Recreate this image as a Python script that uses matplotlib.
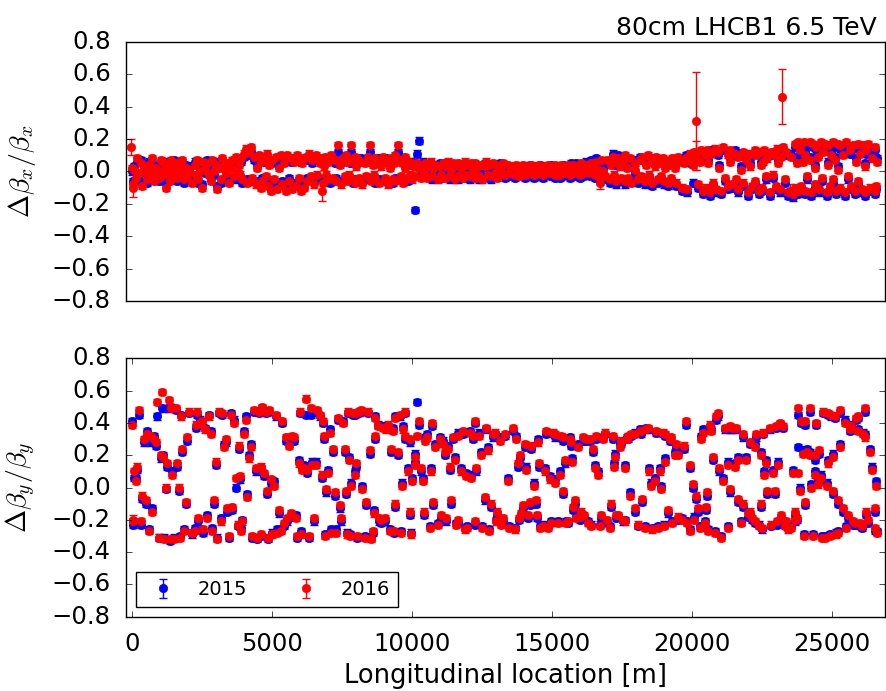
### Beta-beating along the ring, 2015 vs 2016 measurements
import numpy as np
import matplotlib
matplotlib.use('Agg')
import matplotlib.pyplot as plt

# BPM longitudinal positions [m]
s = [
    20, 45, 84, 150, 202, 262, 322, 381, 440, 500,
    560, 619, 679, 738, 800, 857, 917, 976, 1035, 1095,
    1120, 1160, 1214, 1273, 1333, 1360, 1400, 1452, 1520, 1580,
    1631, 1690, 1710, 1750, 1809, 1869, 1928, 1988, 2047, 2150,
    2260, 2285, 2345, 2370, 2450, 2523, 2550, 2620, 2702, 2760,
    2821, 2880, 2940, 3000, 3060, 3119, 3178, 3240, 3297, 3357,
    3416, 3476, 3540, 3595, 3654, 3720, 3780, 3833, 3860, 3893,
    3952, 4012, 4080, 4130, 4190, 4250, 4309, 4369, 4430, 4490,
    4550, 4607, 4630, 4667, 4726, 4790, 4845, 4870, 4905, 4960,
    5024, 5083, 5140, 5200, 5262, 5321, 5380, 5440, 5500, 5559,
    5620, 5680, 5738, 5800, 5857, 5920, 5976, 6000, 6036, 6100,
    6160, 6214, 6274, 6333, 6393, 6452, 6510, 6571, 6631, 6714,
    6780, 6833, 6860, 6900, 6952, 7011, 7070, 7130, 7190, 7249,
    7310, 7368, 7428, 7487, 7547, 7610, 7666, 7700, 7726, 7750,
    7800, 7845, 7900, 7964, 7990, 8023, 8050, 8120, 8202, 8230,
    8321, 8380, 8440, 8500, 8560, 8618, 8640, 8678, 8700, 8797,
    8820, 8900, 8975, 9035, 9100, 9154, 9213, 9273, 9330, 9370,
    9392, 9410, 9511, 9570, 9630, 9650, 9700, 9749, 9770, 9868,
    9927, 9950, 9987, 10010, 10106, 10130, 10200, 10250, 10344, 10403,
    10430, 10460, 10550, 10641, 10701, 10720, 10760, 10850, 10939, 11000,
    11058, 11117, 11180, 11236, 11296, 11360, 11415, 11475, 11534, 11600,
    11653, 11670, 11772, 11832, 11900, 11951, 11970, 12070, 12130, 12189,
    12249, 12270, 12308, 12400, 12487, 12510, 12606, 12665, 12725, 12750,
    12830, 12903, 12960, 13022, 13040, 13141, 13200, 13260, 13350, 13439,
    13460, 13618, 13680, 13737, 13797, 13820, 13856, 13920, 13975, 14034,
    14094, 14153, 14213, 14272, 14360, 14451, 14490, 14510, 14530, 14600,
    14689, 14748, 14808, 14870, 14927, 14986, 15050, 15105, 15130, 15224,
    15284, 15340, 15403, 15420, 15462, 15520, 15581, 15640, 15700, 15720,
    15760, 15820, 15879, 15938, 16000, 16058, 16117, 16140, 16230, 16300,
    16355, 16414, 16480, 16533, 16593, 16650, 16712, 16771, 16830, 16890,
    16960, 17069, 17130, 17188, 17210, 17247, 17300, 17366, 17426, 17485,
    17550, 17604, 17620, 17680, 17723, 17800, 17850, 17961, 17980, 18080,
    18150, 18199, 18220, 18318, 18380, 18437, 18460, 18556, 18580, 18675,
    18735, 18794, 18854, 18913, 18970, 19010, 19032, 19050, 19151, 19210,
    19270, 19290, 19389, 19449, 19508, 19530, 19650, 19720, 19806, 19830,
    19925, 19950, 20044, 20100, 20165, 20224, 20284, 20340, 20403, 20470,
    20522, 20545, 20600, 20641, 20700, 20760, 20819, 20880, 20938, 20960,
    21057, 21117, 21200, 21295, 21310, 21355, 21375, 21450, 21533, 21593,
    21652, 21670, 21771, 21831, 21850, 21930, 22009, 22069, 22090, 22160,
    22247, 22270, 22307, 22400, 22460, 22485, 22500, 22545, 22600, 22663,
    22680, 22783, 22850, 22901, 22961, 23020, 23040, 23080, 23140, 23199,
    23258, 23318, 23377, 23450, 23556, 23620, 23675, 23690, 23780, 23794,
    23810, 23854, 23920, 23973, 24015, 24032, 24050, 24120, 24210, 24230,
    24270, 24329, 24389, 24405, 24449, 24508, 24560, 24627, 24645, 24687,
    24760, 24840, 24865, 24880, 24924, 24990, 25044, 25060, 25103, 25160,
    25222, 25240, 25282, 25300, 25401, 25460, 25520, 25580, 25640, 25699,
    25758, 25818, 25880, 25937, 25955, 25996, 26080, 26130, 26175, 26195,
    26234, 26300, 26352, 26440, 26531, 26550, 26590, 26620,
]

# horizontal beta-beating, 2015
bbx_2015 = [
    .00, -.06, .03, -.06, .06, -.02, .07, -.07, .01, .03,
    -.07, .06, -.02, .06, -.04, .00, .03, -.06, .05, -.04,
    .04, -.01, -.08, .06, .01, -.04, .05, -.02, .07, .00,
    -.06, .04, -.02, .05, .05, -.07, .04, -.02, .03, -.05,
    .06, -.04, .05, -.07, .02, -.08, .04, -.01, .07, .00,
    -.04, .05, -.02, .06, -.09, .04, -.07, .06, .02, -.03,
    .03, -.05, .04, .05, -.05, .07, -.01, .06, -.04, .06,
    -.07, .09, .11, -.05, .10, .12, -.06, .07, -.06, .04,
    .08, -.08, .08, -.04, .06, -.05, .09, -.07, .06, -.10,
    .05, -.07, .07, -.09, .04, .08, -.06, .07, -.10, .08,
    -.04, .06, -.09, .08, -.07, .08, -.06, .06, -.10, .07,
    -.08, .07, -.04, .09, -.05, .05, -.06, .08, -.04, .07,
    .06, -.05, .05, .07, -.04, .08, -.07, .08, -.06, .05,
    -.04, .12, .06, -.06, .06, -.05, .08, -.04, .08, -.04,
    .05, .12, -.07, .07, -.05, .05, .06, -.06, .08, -.06,
    .07, -.05, .07, .12, -.04, .06, -.04, .06, -.07, .08,
    -.05, .05, .07, -.06, .08, -.06, .04, .06, -.07, .07,
    .08, -.04, .12, .09, -.05, .07, -.05, .07, .04, -.06,
    .04, -.04, .06, -.03, .05, -.24, .11, .19, -.02, .06,
    -.03, .03, -.02, .05, .04, -.05, .04, .02, -.03, .05,
    -.04, .03, -.02, .05, .04, -.05, .03, .03, -.03, .02,
    -.05, .03, .04, -.02, .04, -.04, .02, -.05, .03, .03,
    -.02, .03, .04, -.05, .02, -.03, .05, .04, -.04, .02,
    -.05, .03, .01, .02, -.02, .05, -.02, .03, -.04, .02,
    -.03, .01, -.04, .02, .03, -.01, .01, .02, .02, -.04,
    .01, -.03, .04, .02, -.04, .01, .03, -.03, .02, .04,
    -.04, .01, .02, .02, -.03, .04, .01, -.04, .02, .03,
    -.04, .02, .04, -.03, .01, .02, .02, -.04, .05, -.01,
    .02, -.03, .05, .00, -.04, .03, .03, -.03, .06, .00,
    -.03, .07, .00, -.04, .08, .03, -.06, .05, .02, -.05,
    .05, -.07, .06, .11, -.04, .04, -.08, .10, .05, -.06,
    .08, -.08, .08, .04, -.06, .06, -.05, .07, -.01, -.07,
    .09, -.05, .07, -.08, .06, .08, -.04, .08, -.09, .05,
    .07, -.07, .07, -.05, .06, -.08, .04, .05, -.09, .06,
    -.06, .06, .04, -.09, .08, .07, -.12, .07, .10, -.13,
    .05, .09, -.07, .10, .07, -.10, .08, .11, -.14, .12,
    -.12, .11, .07, -.15, .13, -.09, .12, -.13, .10, .04,
    -.14, .13, -.06, .12, -.11, .11, .08, -.10, .13, -.07,
    .11, -.13, .03, .10, -.09, .09, -.15, .05, .09, -.11,
    .11, -.08, .12, -.14, .06, .10, -.12, .08, .11, -.05,
    .10, -.15, .10, -.04, .12, -.11, .12, .07, -.13, .11,
    .13, -.07, .10, -.15, .11, -.16, .15, -.12, .07, -.14,
    .16, .11, -.11, .08, .16, -.14, .12, -.05, .16, .09,
    -.15, .15, .04, -.10, .13, .11, -.13, .16, -.06, .14,
    .15, -.15, .06, .14, -.11, .12, .16, -.07, .09, -.14,
    .15, .03, -.12, .14, .12, -.15, .16, -.05, .11, -.11,
    .14, -.14, .08, .15, -.08, .13, -.13, .14, .05, -.15,
    .11, .15, -.12, .10, -.14, .13, -.11, .08,
]

# horizontal beta-beating, 2016
bbx_2016 = [
    .02, -.08, .01, -.04, .08, -.01, .05, -.09, .03, .00,
    -.05, .04, -.01, .08, -.06, .02, .00, -.04, .07, -.02,
    .06, .01, -.10, .04, -.02, -.06, .07, .00, .05, .02,
    -.04, .06, -.01, .03, .07, -.05, .02, -.03, .01, -.07,
    .04, -.02, .07, -.05, .00, -.10, .06, .01, .05, -.02,
    -.06, .07, .00, .04, -.11, .02, -.05, .08, .03, -.01,
    .05, -.07, .02, .07, -.03, .09, -.01, .04, -.02, .08,
    -.05, .11, .14, -.07, .12, .15, -.04, .09, -.08, .02,
    .10, -.10, .06, -.06, .08, -.03, .11, -.09, .04, -.12,
    .07, -.05, .09, -.11, .02, .10, -.08, .05, -.12, .10,
    -.06, .08, -.11, .06, -.09, .10, -.04, .08, -.12, .05,
    -.10, .09, -.06, .11, -.03, .07, -.08, .10, -.02, .05,
    .08, -.07, .03, .09, -.02, .06, -.05, .10, -.04, .07,
    -.06, .16, .04, -.08, .08, -.03, .10, -.06, .06, -.02,
    .07, .16, -.05, .09, -.07, .03, .08, -.04, .06, -.08,
    .05, -.03, .09, .16, -.06, .04, -.02, .08, -.05, .06,
    -.07, .03, .09, -.04, .06, -.08, .02, .08, -.05, .05,
    .10, -.06, .16, .07, -.03, .05, -.07, .09, .02, -.04,
    .06, -.02, .04, -.05, .03, -.03, .05, .02, -.04, .04,
    -.01, .05, -.04, .03, .06, -.03, .02, .04, -.05, .03,
    -.02, .05, -.04, .03, .06, -.03, .01, .05, -.05, .04,
    -.03, .05, .02, -.04, .06, -.02, .04, -.03, .05, .01,
    -.04, .05, .02, -.03, .04, -.05, .03, .06, -.02, .04,
    -.03, .05, -.01, .04, -.04, .03, .00, .05, -.02, .04,
    -.01, .03, -.02, .04, .01, -.03, .03, .00, .04, -.02,
    .03, -.01, .02, .04, -.02, .03, .01, -.01, .04, .02,
    -.02, .03, .00, .04, -.01, .02, .03, -.02, .04, .01,
    -.02, .04, .02, -.01, .03, .00, .04, -.02, .03, .01,
    .04, -.01, .03, .02, -.02, .05, .01, -.01, .04, .02,
    -.01, .05, .02, -.02, .06, .01, -.04, .07, .00, -.03,
    .07, -.05, .04, .09, -.02, .06, -.06, .08, .03, -.04,
    .06, -.06, .10, .02, -.04, .08, -.07, .05, .01, -.05,
    .07, -.03, .09, -.06, .04, .10, -.02, .06, -.07, .03,
    .09, -.05, .05, -.03, .08, -.06, .02, .07, -.07, .04,
    -.04, .08, .02, -.07, .06, .09, -.10, .05, .08, -.11,
    .07, .11, .04, .12, .09, -.08, .06, .13, -.12, .10,
    -.10, .13, .05, -.13, .11, -.07, .14, -.11, .12, .02,
    -.12, .15, -.04, .10, -.09, .13, .06, -.08, .11, -.05,
    .09, -.11, .01, .12, -.07, .07, -.13, .03, .11, -.09,
    .13, -.06, .10, -.12, .04, .12, -.10, .06, .13, -.03,
    .08, -.13, .12, -.02, .10, -.09, .14, .05, -.11, .09,
    .15, -.05, .12, -.13, .09, -.14, .17, -.10, .05, -.12,
    .18, .13, -.09, .06, .18, -.12, .10, -.03, .18, .07,
    -.13, .17, .02, -.08, .15, .09, -.11, .18, -.04, .12,
    .17, -.13, .04, .16, -.09, .10, .18, -.05, .07, -.12,
    .17, .01, -.10, .16, .10, -.13, .18, -.03, .13, -.09,
    .16, -.12, .06, .17, -.06, .11, -.11, .16, .03, -.13,
    .13, .17, -.10, .08, -.12, .15, -.09, .06,
]

# vertical beta-beating, 2015
bby_2015 = [
    .41, -.23, .06, .06, .11, .45, -.23, -.07, .28, -.10,
    .35, -.26, .28, -.13, .32, .26, .44, -.31, .18, .49,
    .20, -.31, -.01, .13, .49, -.33, .50, .10, -.31, .48,
    .13, -.02, -.30, .45, .22, -.26, -.10, .29, .46, -.29,
    -.25, .37, .45, -.21, .42, .39, -.28, .37, -.17, .45,
    .35, -.25, -.10, .14, -.31, .46, -.19, .45, .27, .28,
    -.15, -.31, .46, -.14, .42, .00, -.24, .24, .05, -.25,
    -.20, .35, .44, -.04, .20, .27, -.31, .47, .10, -.32,
    .46, .12, -.30, .49, .07, .46, -.04, -.32, .47, .03,
    -.28, .04, .44, -.26, -.16, -.26, .40, -.24, .29, -.21,
    .28, -.18, .30, .29, -.17, -.31, .17, .46, -.27, .13,
    .14, .45, .09, -.31, .45, .16, -.21, .16, .47, .44,
    .06, .40, .30, -.29, -.03, .11, .36, -.26, .22, -.05,
    -.26, .42, -.13, -.21, .41, .22, -.04, -.28, .46, .19,
    -.29, .03, .45, .45, .10, .13, -.31, .46, .47, .01,
    -.30, -.11, .46, .21, -.31, -.28, -.14, .44, .30, .39,
    -.21, -.22, .38, -.21, .38, .38, -.26, .22, .37, -.28,
    .44, -.12, .20, .44, -.27, .03, .38, .46, .30, .12,
    .28, -.17, -.28, .06, .16, .21, .53, .39, .10, .06,
    -.17, .31, .33, -.24, .12, .38, -.11, .27, -.22, .31,
    -.19, .29, .20, -.21, .26, .11, -.10, .30, .19, -.22,
    .34, -.22, .12, .33, -.25, .09, -.24, .35, .08, .30,
    -.23, .40, .10, .34, .22, -.24, -.08, .36, .25, -.26,
    -.12, .31, .33, -.20, -.17, .31, -.22, -.21, .32, .06,
    -.24, .35, -.25, .32, .13, -.20, .18, -.18, -.13, .25,
    .13, -.19, -.11, .24, .03, -.10, -.19, .30, .13, -.24,
    -.23, .12, .33, -.24, .07, -.21, .33, .31, .05, -.21,
    .10, .31, .29, -.04, .15, -.21, -.22, .31, .26, .18,
    -.14, -.10, -.18, .27, -.20, -.17, .29, -.19, .29, -.21,
    .29, -.23, .22, .14, .30, .10, -.23, -.19, .31, .33,
    -.22, -.24, -.12, .30, .15, .21, -.19, -.18, .27, .27,
    -.21, .14, -.20, .31, .30, -.03, .32, .34, -.15, -.24,
    .36, .33, -.09, -.24, .37, .36, .12, .03, -.25, .06,
    .34, -.24, .12, .01, .33, -.23, .32, .18, -.16, .29,
    .29, -.21, .22, .25, .22, -.20, -.19, .24, .39, -.21,
    .12, -.26, .00, -.18, -.07, -.15, -.24, .32, .36, -.21,
    -.14, -.05, -.26, .37, .36, .17, -.27, .42, .44, .10,
    -.30, .06, .36, .16, -.24, .36, -.03, .36, .15, .36,
    .19, -.09, -.21, .31, -.12, .19, -.18, .27, -.17, -.20,
    .27, -.22, .31, -.23, -.12, .22, -.26, .33, .10, .17,
    -.04, .36, -.24, .11, -.04, .37, -.23, .16, .39, -.19,
    .37, -.23, -.22, -.25, -.24, .11, -.17, -.21, -.20, .45,
    .25, .00, .40, .23, -.29, .39, -.11, .24, .47, .22,
    .02, -.29, .10, .17, .39, .04, .21, .08, -.30, .46,
    -.30, .03, .45, .17, -.29, .44, .21, -.04, .43, -.28,
    -.10, -.27, .46, .27, -.15, .42, -.24, -.19, .35, .39,
    -.23, -.23, .42, .36, .43, -.24, -.25, .34, .33, .47,
    -.17, -.22, .24, .13, -.15, -.27, .04, -.27,
]

# vertical beta-beating, 2016
bby_2016 = [
    .39, -.21, .10, .04, .13, .48, -.21, -.05, .30, -.08,
    .33, -.27, .32, -.15, .30, .28, .53, -.31, .20, .59,
    .19, -.32, .00, .15, .54, -.32, .49, .08, -.32, .49,
    .15, .00, -.31, .44, .24, -.27, -.09, .31, .47, -.28,
    -.27, .39, .47, -.19, .40, .41, -.26, .36, -.19, .44,
    .33, -.27, -.08, .16, -.32, .47, -.21, .46, .25, .30,
    -.13, -.30, .45, -.12, .40, .06, -.23, .26, .07, -.27,
    -.21, .33, .42, -.06, .18, .25, -.30, .48, .12, -.31,
    .47, .13, -.29, .50, .09, .47, -.02, -.31, .48, .05,
    -.29, .01, .45, -.28, -.14, -.27, .41, -.22, .31, -.19,
    .26, -.16, .32, .31, -.19, -.30, .15, .47, -.29, .11,
    .12, .55, .11, -.30, .49, .14, -.19, .14, .48, .45,
    .08, .41, .32, -.30, -.01, .09, .34, -.28, .24, -.03,
    -.28, .43, -.11, -.19, .40, .24, -.02, -.29, .47, .17,
    -.30, .01, .46, .46, .08, .15, -.30, .47, .48, -.01,
    -.31, -.09, .47, .23, -.32, -.27, -.16, .43, .32, .38,
    -.19, -.20, .37, -.19, .36, .39, -.27, .24, .35, -.27,
    .43, -.10, .22, .45, -.28, .01, .36, .47, .32, .10,
    .30, -.15, -.29, .04, .14, .19, .32, .41, .12, .04,
    -.15, .29, .31, -.25, .10, .40, -.09, .25, -.23, .30,
    -.17, .27, .22, -.19, .24, .13, -.08, .31, .17, -.23,
    .32, -.20, .10, .35, -.26, .07, -.25, .34, .06, .32,
    -.21, .41, .12, .32, .20, -.25, -.06, .37, .23, -.27,
    -.10, .33, .34, -.21, -.15, .29, -.23, -.19, .33, .04,
    -.25, .37, -.26, .30, .15, -.19, .20, -.16, -.11, .27,
    .11, -.17, -.09, .26, .01, -.08, -.17, .28, .15, -.25,
    -.24, .10, .35, -.25, .05, -.22, .34, .33, .03, -.22,
    .08, .32, .31, -.02, .17, -.22, -.21, .30, .28, .16,
    -.12, -.08, -.19, .25, -.18, -.15, .31, -.17, .30, -.22,
    .30, -.24, .24, .12, .32, .08, -.24, -.17, .30, .34,
    -.20, -.25, -.10, .32, .13, .19, -.17, -.17, .25, .29,
    -.20, .12, -.21, .30, .32, -.05, .33, .33, -.13, -.23,
    .35, .35, -.07, -.25, .36, .37, .10, .01, -.26, .04,
    .35, -.25, .10, -.01, .34, -.24, .33, .16, -.14, .30,
    .31, -.22, .20, .27, .20, -.18, -.20, .26, .41, -.22,
    .14, -.27, .02, -.20, -.05, -.13, -.25, .30, .34, -.22,
    -.12, -.03, -.27, .39, .35, .19, -.28, .44, .46, .12,
    -.31, .04, .37, .14, -.25, .38, -.01, .37, .13, .37,
    .17, -.07, -.22, .33, -.10, .17, -.16, .28, -.15, -.19,
    .25, -.21, .33, -.24, -.10, .20, -.25, .34, .08, .15,
    -.02, .37, -.23, .09, -.02, .38, -.21, .14, .40, -.17,
    .38, -.24, -.21, -.26, -.25, .09, -.15, -.20, -.19, .49,
    .09, -.02, .41, .21, -.30, .41, -.09, .22, .49, .20,
    .00, -.30, .08, .20, .40, .02, .23, .06, -.31, .47,
    -.31, .01, .46, .15, -.30, .45, .19, -.02, .44, -.29,
    -.08, -.28, .48, .25, -.13, .40, -.25, -.17, .36, .38,
    -.21, -.22, .43, .35, .44, -.22, -.24, .33, .31, .49,
    -.15, -.20, .22, .11, -.13, -.25, .01, -.28,
]

# typical measurement error
bb_err = 0.02

# points with large error bars (2016)
out_x_s = [-30, 60, 6790, 16710, 20140, 20140, 23240, 23500]
out_x_bb = [0.15, -0.10, -0.12, -0.07, 0.31, 0.10, 0.46, -0.12]
out_x_err = [0.05, 0.06, 0.06, 0.04, 0.30, 0.09, 0.17, 0.04]
out_y_s = [30]
out_y_bb = [-0.20]
out_y_err = [0.03]

plt.style.use('classic')
plt.rcParams['savefig.facecolor'] = 'white'

fig = plt.figure(figsize=(8.86, 6.91), dpi=100)
ax1 = fig.add_axes([0.1423, 0.5644, 0.8564, 0.3753])
ax2 = fig.add_axes([0.1423, 0.1075, 0.8564, 0.3740])

kw = dict(fmt='o', ms=6, capsize=3, elinewidth=1, capthick=1)

ax1.errorbar(s, bbx_2015, yerr=bb_err, color='b', mec='b', **kw)
ax1.errorbar(s, bbx_2016, yerr=bb_err, color='r', mec='r', **kw)
ax1.errorbar(out_x_s, out_x_bb, yerr=out_x_err, color='r', mec='r', **kw)

ax2.errorbar(s, bby_2015, yerr=bb_err, color='b', mec='b', label='2015', **kw)
ax2.errorbar(s, bby_2016, yerr=bb_err, color='r', mec='r', label='2016', **kw)
ax2.errorbar(out_y_s, out_y_bb, yerr=out_y_err, color='r', mec='r', **kw)

for ax in (ax1, ax2):
    ax.set_xlim(-200, 26900)
    ax.set_ylim(-0.8, 0.8)
    ax.set_yticks(np.arange(-0.8, 0.81, 0.2))
    ax.tick_params(labelsize=17.5, pad=11)

ax1.tick_params(axis='x', top=False, bottom=False, labelbottom=False)
ax2.set_xticks([0, 5000, 10000, 15000, 20000, 25000])

ax1.set_ylabel(r'$\Delta\beta_x/\beta_x$', fontsize=20)
ax2.set_ylabel(r'$\Delta\beta_y/\beta_y$', fontsize=20)
ax1.yaxis.set_label_coords(-0.116, 0.5)
ax2.yaxis.set_label_coords(-0.116, 0.5)
ax2.set_xlabel('Longitudinal location [m]', fontsize=18.5, labelpad=5)

fig.text(877 / 886, 1 - 35 / 691, '80cm LHCB1 6.5 TeV', ha='right', va='baseline', fontsize=18)

ax2.legend(loc='lower left', ncol=2, numpoints=1, fontsize=14)

fig.savefig('out.png', dpi=100)
